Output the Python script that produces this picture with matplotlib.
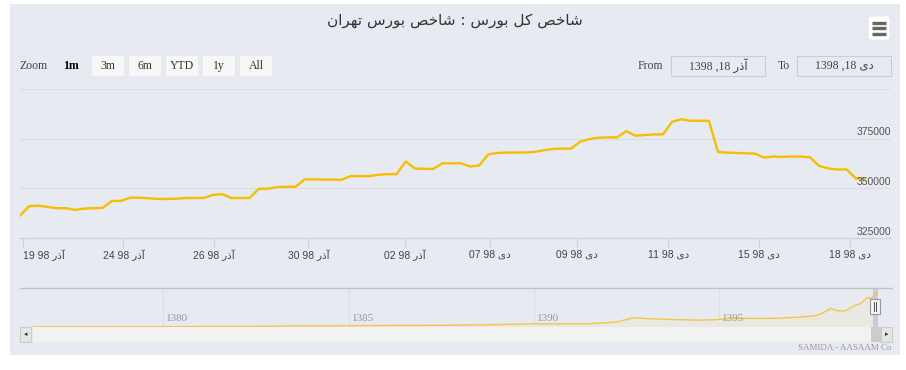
import matplotlib
matplotlib.use("Agg")
import matplotlib.pyplot as plt
from matplotlib.patches import Rectangle, FancyBboxPatch
from matplotlib.transforms import blended_transform_factory
import numpy as np

# ---------------- data ----------------
title_text = "شاخص کل بورس : شاخص بورس تهران"

index_values = [
    336300, 341000, 341300, 340650, 340000, 340000, 339150, 339800, 340000, 340150,
    343650, 343650, 345300, 345300, 345000, 344650, 344650, 344800, 345150, 345150,
    345150, 346650, 347150, 345150, 345150, 345150, 349800, 349800, 350650, 350800,
    350800, 354500, 354500, 354400, 354400, 354300, 356150, 356150, 356150, 356800,
    357150, 357150, 363500, 360000, 359800, 359750, 362650, 362600, 362600, 361000,
    361500, 367150, 367800, 368000, 368000, 368100, 368300, 369150, 369800, 370000,
    370000, 373500, 374800, 375500, 375650, 375650, 378800, 376500, 376800, 377150,
    377150, 383500, 384800, 384000, 384000, 384000, 368300, 368000, 367800, 367650,
    367500, 365500, 366000, 365800, 366000, 366000, 365650, 361300, 360000, 359500,
    359500, 355000, 354800,
]

y_ticks = [325000, 350000, 375000, 400000]
y_labels_shown = [325000, 350000, 375000]

tick_pos = [0.36, 11.25, 21.09, 31.39, 41.95, 51.2, 60.67, 70.58, 80.49, 90.36]
tick_days = ["19", "24", "26", "30", "02", "07", "09", "11", "15", "18"]
tick_months = ["آذر"] * 5 + ["دی"] * 5
tick_year = "98"

zoom_buttons = ["3m", "6m", "YTD", "1y", "All"]
date_from = ("18", "آذر", "1398")
date_to = ("18", "دی", "1398")

nav_years = [1376.5, 1379.6, 1382.1, 1383.7, 1385.8, 1387.5, 1389.1, 1389.9, 1391.4,
             1392.2, 1392.7, 1393.1, 1393.9, 1394.5, 1394.9, 1395.3, 1396.1, 1396.6,
             1397.2, 1397.6, 1397.8, 1398.0, 1398.2, 1398.4, 1398.6, 1398.8, 1399.0,
             1399.1, 1399.25]
nav_values = [2000, 3000, 5000, 12000, 16000, 18000, 26000, 34000, 34000,
              52000, 100000, 89000, 79000, 73000, 79000, 94000, 92000, 94000,
              107000, 120000, 152000, 200000, 173000, 173000, 220000, 250000, 315000,
              305000, 372000]
nav_ticks = [1380, 1385, 1390, 1395]

credits = "SAMIDA - AASAAM Co"

# ---------------- arabic shaping helper ----------------
FORMS = {
    'ا': ('\uFE8D', '\uFE8E', None, None),
    'آ': ('\uFE81', '\uFE82', None, None),
    'ب': ('\uFE8F', '\uFE90', '\uFE91', '\uFE92'),
    'ت': ('\uFE95', '\uFE96', '\uFE97', '\uFE98'),
    'خ': ('\uFEA5', '\uFEA6', '\uFEA7', '\uFEA8'),
    'د': ('\uFEA9', '\uFEAA', None, None),
    'ذ': ('\uFEAB', '\uFEAC', None, None),
    'ر': ('\uFEAD', '\uFEAE', None, None),
    'س': ('\uFEB1', '\uFEB2', '\uFEB3', '\uFEB4'),
    'ش': ('\uFEB5', '\uFEB6', '\uFEB7', '\uFEB8'),
    'ص': ('\uFEB9', '\uFEBA', '\uFEBB', '\uFEBC'),
    'ل': ('\uFEDD', '\uFEDE', '\uFEDF', '\uFEE0'),
    'ن': ('\uFEE5', '\uFEE6', '\uFEE7', '\uFEE8'),
    'ه': ('\uFEE9', '\uFEEA', '\uFEEB', '\uFEEC'),
    'و': ('\uFEED', '\uFEEE', None, None),
    'ک': ('\uFB8E', '\uFB8F', '\uFB90', '\uFB91'),
    'ی': ('\uFBFC', '\uFBFD', '\uFBFE', '\uFBFF'),
}


def fa(s):
    out = []
    n = len(s)
    for i, ch in enumerate(s):
        if ch not in FORMS:
            out.append(ch)
            continue
        prev = s[i - 1] if i > 0 else None
        nxt = s[i + 1] if i < n - 1 else None
        join_prev = prev in FORMS and FORMS[prev][2] is not None
        join_next = FORMS[ch][2] is not None and nxt in FORMS
        iso, fin, ini, med = FORMS[ch]
        if join_prev and join_next:
            out.append(med)
        elif join_prev:
            out.append(fin)
        elif join_next:
            out.append(ini)
        else:
            out.append(iso)
    return "".join(reversed(out))


# ---------------- figure ----------------
W, H = 906, 370
fig = plt.figure(figsize=(W / 100, H / 100), dpi=100)
fig.patch.set_facecolor("white")


def fx(px):
    return px / W


def fy(py):
    return 1 - py / H


BG = "#E7EAF1"
fig.patches.append(Rectangle((fx(10), fy(355)), fx(890), (355 - 4) / H,
                             transform=fig.transFigure, facecolor=BG, edgecolor="none", zorder=-10))

SANS = ["Liberation Sans", "DejaVu Sans"]
SERIF = ["Liberation Serif", "DejaVu Sans"]

# title
fig.text(fx(455), fy(20), fa(title_text), ha="center", va="center", fontsize=11,
         color="#333333", family=["DejaVu Sans"])

# hamburger
fig.patches.append(FancyBboxPatch((fx(868), fy(40)), fx(22), 24 / H,
                                  boxstyle="round,pad=0,rounding_size=0.004",
                                  transform=fig.transFigure, facecolor="white",
                                  edgecolor="#E0E0E0", lw=0.5, zorder=2))
for yy in (22.5, 28, 33.5):
    fig.lines.append(plt.Line2D([fx(872), fx(886)], [fy(yy), fy(yy)], transform=fig.transFigure,
                                color="#666666", lw=2.4, solid_capstyle="butt", zorder=3))

# range selector
ROW = 66
fig.text(fx(20), fy(ROW), "Zoom", ha="left", va="center", fontsize=8.5, color="#444444", family=SERIF)
fig.text(fx(71), fy(ROW), "1m", ha="center", va="center", fontsize=8.5, color="#000000",
         family=SERIF, fontweight="bold")
btn_x = [92, 129, 166, 203, 240]
for bx, lab in zip(btn_x, zoom_buttons):
    fig.patches.append(Rectangle((fx(bx), fy(76)), fx(32), 20 / H, transform=fig.transFigure,
                                 facecolor="#F7F7F7", edgecolor="none", zorder=2))
    fig.text(fx(bx + 16), fy(ROW), lab, ha="center", va="center", fontsize=8.5,
             color="#333333", family=SERIF, zorder=3)

fig.text(fx(650), fy(ROW), "From", ha="center", va="center", fontsize=8.5, color="#444444", family=SERIF)
fig.text(fx(784), fy(ROW), "To", ha="center", va="center", fontsize=8.5, color="#444444", family=SERIF)
for bx, d in ((671, date_from), (797, date_to)):
    fig.patches.append(Rectangle((fx(bx), fy(76)), fx(94), 20 / H, transform=fig.transFigure,
                                 facecolor=BG, edgecolor="#CCCCCC", lw=0.8, zorder=2))
    fig.text(fx(bx + 47), fy(ROW), f"{d[2]} ,{d[0]} {fa(d[1])}", ha="center", va="center",
             fontsize=8.5, color="#444444", family=SERIF, zorder=3)

# ---------------- main axes ----------------
x0, x1, ytop, ybot = 20, 891, 89, 238
ax = fig.add_axes([fx(x0), fy(ybot), fx(x1 - x0), (ybot - ytop) / H])
ax.set_zorder(1)
ax.set_facecolor("none")
idx = np.arange(len(index_values))
step = (865 - 20) / (len(index_values) - 1)
ax.set_xlim(0, (x1 - x0) / step)
ax.set_ylim(y_ticks[0], y_ticks[-1])
for v in y_ticks[1:]:
    ax.axhline(v, color="#DCDEDD", lw=0.8, zorder=1)
ax.plot(idx, index_values, color="#F6BE00", lw=1.7, zorder=3, solid_joinstyle="round")

for s in ("top", "right", "left"):
    ax.spines[s].set_visible(False)
ax.spines["bottom"].set_color("#C8D3E8")
ax.spines["bottom"].set_linewidth(1.0)
ax.set_yticks([])
ax.set_xticks(tick_pos)
ax.set_xticklabels([f"{d} {tick_year} {fa(m)}" for d, m in zip(tick_days, tick_months)])
ax.tick_params(axis="x", direction="out", length=6.5, width=0.8, color="#C8D3E8",
               labelsize=7.5, labelcolor="#444444", pad=2)
for lab in ax.get_xticklabels():
    lab.set_family(SANS)
ax.get_xticklabels()[0].set_horizontalalignment("left")

tr = blended_transform_factory(ax.transAxes, ax.transData)
for v in y_labels_shown:
    ax.text(1.0, v + 700, f"{v}", transform=tr, ha="right", va="bottom", fontsize=7.5,
            color="#555555", family=SANS)

# ---------------- navigator ----------------
nx0, nx1, ntop, nbot = 20, 892, 288, 327
nav = fig.add_axes([fx(nx0), fy(nbot), fx(nx1 - nx0), (nbot - ntop) / H])
nav.set_zorder(1)
nav.set_facecolor("none")
px_per_year = 37.07
year_left = 1380 - (163.3 - nx0) / px_per_year
year_right = 1395 + (nx1 - 719.3) / px_per_year
nav.set_xlim(year_left, year_right)
nav.set_ylim(0, 418000)
nav.fill_between(nav_years, nav_values, 0, color="#EAE8E2", alpha=0.95, lw=0, zorder=1)
nav.plot(nav_years, nav_values, color="#F2C744", lw=1.0, zorder=3)
for t in nav_ticks:
    nav.axvline(t, color="#DDDEE0", lw=0.8, zorder=0)
    nav.text(t + 0.08, 0.1, str(t), transform=blended_transform_factory(nav.transData, nav.transAxes),
             ha="left", va="bottom", fontsize=8, color="#999999", family=SERIF)
nav.set_xticks([])
nav.set_yticks([])
for s in ("bottom", "right", "left"):
    nav.spines[s].set_visible(False)
nav.spines["top"].set_color("#C4C4C4")
nav.spines["top"].set_linewidth(1.0)
# selected range mask
nav.axvspan(year_left + (873 - nx0) / px_per_year, year_left + (878 - nx0) / px_per_year,
            color="#C3CAD6", alpha=0.9, lw=0, zorder=2)

# handle
fig.patches.append(Rectangle((fx(870), fy(314)), fx(10), 15 / H, transform=fig.transFigure,
                             facecolor="#F2F2F2", edgecolor="#999999", lw=0.8, zorder=5))
for hx in (874, 876):
    fig.lines.append(plt.Line2D([fx(hx), fx(hx)], [fy(302), fy(311)], transform=fig.transFigure,
                                color="#333333", lw=0.6, zorder=6))

# scrollbar
fig.patches.append(Rectangle((fx(33), fy(342)), fx(848), 15 / H, transform=fig.transFigure,
                             facecolor="#F2F2F2", edgecolor="none", zorder=2))
fig.patches.append(Rectangle((fx(871), fy(342)), fx(10), 15 / H, transform=fig.transFigure,
                             facecolor="#CCCCCC", edgecolor="none", zorder=3))
for bx, arrow in ((20, "◂"), (881, "▸")):
    fig.patches.append(Rectangle((fx(bx), fy(342)), fx(11), 15 / H, transform=fig.transFigure,
                                 facecolor="#E6E6E6", edgecolor="#CCCCCC", lw=0.8, zorder=3))
    fig.text(fx(bx + 5.5), fy(334.5), arrow, ha="center", va="center", fontsize=5,
             color="#333333", family=["DejaVu Sans"], zorder=4)

fig.text(fx(892), fy(348), credits, ha="right", va="center", fontsize=6.5,
         color="#999999", family=SERIF)

fig.savefig("out.png", dpi=100, facecolor="white")
